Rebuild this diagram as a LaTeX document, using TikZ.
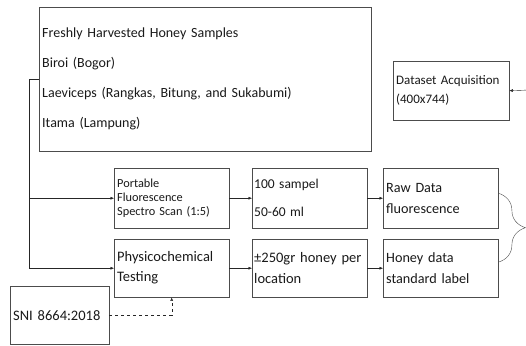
\documentclass[tikz,border=0pt]{standalone}
\usepackage{fontspec}
\setmainfont{Carlito}
\usepackage{tikz}
\usetikzlibrary{calc,decorations.pathreplacing,arrows.meta}

\tikzset{
  stagebox/.style={draw=black!70, thin, anchor=north west, align=left, inner sep=0pt,
    text=black!90},
  link/.style={black!85, thin, -{Latex[length=3.5pt,width=3pt]}}
}

\begin{document}
\begin{tikzpicture}[x=1pt,y=-1pt]
        \useasboundingbox (0,0) rectangle (526,345);

        % The sample source box
        \node[stagebox, minimum width=332pt, minimum height=144pt, text width=326pt,
              font=\fontsize{14}{30}\selectfont] (samples) at (39,7)
              {Freshly Harvested Honey Samples\\Biroi (Bogor)\\Laeviceps (Rangkas, Bitung, and Sukabumi)\\Itama (Lampung)};

        % The dataset box at the end of the flow
        \node[stagebox, minimum width=116pt, minimum height=59pt, text width=110pt,
              font=\fontsize{13}{19}\selectfont] (dataset) at (393,61)
              {Dataset Acquisition\\(400x744)};

        % First column: the two measurements
        \node[stagebox, minimum width=115pt, minimum height=60pt, text width=109pt,
              font=\fontsize{12.3}{14.3}\selectfont] (scan) at (114,168)
              {Portable\\Fluorescence\\Spectro Scan (1:5)};
        \node[stagebox, minimum width=115pt, minimum height=58pt, text width=109pt,
              font=\fontsize{14.5}{20}\selectfont] (physico) at (114,239)
              {Physicochemical\\Testing};

        % Second column: the amounts
        \node[stagebox, minimum width=115pt, minimum height=60pt, text width=111pt,
              font=\fontsize{13.5}{28}\selectfont] (sampel) at (252,168)
              {100 sampel\\50-60 ml};
        \node[stagebox, minimum width=115pt, minimum height=58pt, text width=111pt,
              font=\fontsize{14.5}{21}\selectfont] (perloc) at (252,239)
              {±250gr honey per\\location};

        % Third column: the data
        \node[stagebox, minimum width=115pt, minimum height=60pt, text width=109pt,
              font=\fontsize{14.2}{21}\selectfont] (rawdata) at (383,168)
              {Raw Data\\fluorescence};
        \node[stagebox, minimum width=115pt, minimum height=58pt, text width=109pt,
              font=\fontsize{14.2}{21}\selectfont] (honeylabel) at (383,239)
              {Honey data\\standard label};

        % The standard used for testing
        \node[stagebox, minimum width=99pt, minimum height=58pt, text width=93pt,
              font=\fontsize{14.5}{16}\selectfont] (sni) at (10,286)
              {SNI 8664:2018};

        % Branches out of the sample box
        \draw[link] (samples.west) -- ++(-10,0) |- (scan.west);
        \draw[link] (samples.west) -- ++(-10,0) |- (physico.west);

        % Flow along the rows
        \draw[link] (scan.east) -- (sampel.west);
        \draw[link] (sampel.east) -- (rawdata.west);
        \draw[link] (physico.east) -- (perloc.west);
        \draw[link] (perloc.east) -- (honeylabel.west);

        % The standard feeds the testing
        \draw[link, dashed] (sni.east) -| (physico.south);

        % Both data sets joined by a brace
        \draw[black!70, thin, decorate, decoration={brace, amplitude=27pt}]
              ([yshift=5pt]rawdata.east) -- ([yshift=6pt]honeylabel.east);

        % Arrow coming into the dataset box
        \coordinate (feed) at (530,90);
        \draw[link] (feed) -- (dataset.east);

    \end{tikzpicture}
\end{document}
